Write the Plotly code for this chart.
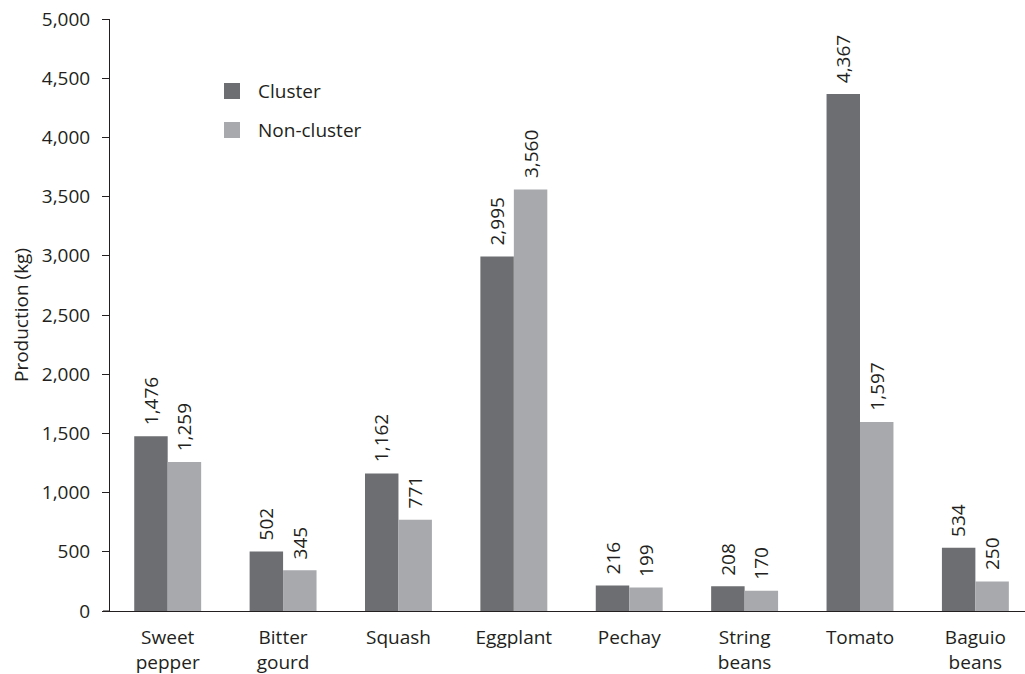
import plotly.graph_objects as go

categories = ["Sweet<br>pepper", "Bitter<br>gourd", "Squash", "Eggplant", "Pechay",
              "String<br>beans", "Tomato", "Baguio<br>beans"]
cluster = [1476, 502, 1162, 2995, 216, 208, 4367, 534]
non_cluster = [1259, 345, 771, 3560, 199, 170, 1597, 250]
y_ticks = [0, 500, 1000, 1500, 2000, 2500, 3000, 3500, 4000, 4500, 5000]
series = [("Cluster", cluster, "#6d6e71"), ("Non-cluster", non_cluster, "#a7a9ac")]

FONT = "Open Sans"
FS = 19
TXT = "#231f20"

W, H = 1025, 674
ML, MR, MT, MB = 110, 0, 19, 63
XR = [-0.5, 7.43]
BARGAP = 0.42
plot_w = W - ML - MR
plot_h = H - MT - MB
px_per_cat = plot_w / (XR[1] - XR[0])
bar_w_px = px_per_cat * (1 - BARGAP) / len(series)

fig = go.Figure()
for name, vals, col in series:
    fig.add_trace(go.Bar(x=categories, y=vals, name=name, marker_color=col,
                         marker_line_width=0, showlegend=False))

annotations = []
for si, (name, vals, col) in enumerate(series):
    shift = (si - (len(series) - 1) / 2) * bar_w_px
    for cat, v in zip(categories, vals):
        annotations.append(dict(x=cat, y=v, xref="x", yref="y", text=f"{v:,}",
                                textangle=-90, showarrow=False, xanchor="center",
                                yanchor="bottom", xshift=shift, yshift=9,
                                font=dict(family=FONT, size=FS, color=TXT)))

# manual legend (paper coordinates)
leg_x0, leg_size = (224 - ML) / plot_w, 16
leg_rows = [91, 130]
for (name, vals, col), cy in zip(series, leg_rows):
    yc = (H - MB - cy) / plot_h
    fig.add_shape(type="rect", xref="paper", yref="paper",
                  x0=leg_x0, x1=leg_x0 + leg_size / plot_w,
                  y0=yc - leg_size / 2 / plot_h, y1=yc + leg_size / 2 / plot_h,
                  fillcolor=col, line=dict(width=0))
    annotations.append(dict(x=(256 - ML) / plot_w, y=yc, xref="paper", yref="paper",
                            text=name, showarrow=False, xanchor="left", yanchor="middle",
                            font=dict(family=FONT, size=FS, color=TXT)))

fig.update_layout(
    width=W, height=H,
    margin=dict(l=ML, r=MR, t=MT, b=MB),
    paper_bgcolor="white", plot_bgcolor="white",
    barmode="group", bargap=BARGAP, bargroupgap=0,
    font=dict(family=FONT, size=FS, color=TXT),
    showlegend=False,
    annotations=annotations,
    xaxis=dict(range=XR, showline=True, linecolor=TXT, linewidth=1,
               ticks="", tickfont=dict(family=FONT, size=FS, color=TXT),
               showgrid=False, zeroline=False, ticklabelstandoff=9),
    yaxis=dict(range=[0, 5000], tickvals=y_ticks, tickformat=",",
               showline=True, linecolor=TXT, linewidth=1,
               ticks="outside", ticklen=7, tickcolor=TXT,
               showgrid=False, zeroline=False, ticklabelstandoff=8,
               tickfont=dict(family=FONT, size=FS, color=TXT),
               title=dict(text="Production (kg)", standoff=8,
                          font=dict(family=FONT, size=FS, color=TXT))),
)
fig.add_shape(type="line", xref="paper", yref="paper", x0=-7 / plot_w, x1=0, y0=0, y1=0,
              line=dict(color=TXT, width=1))

fig.write_html("out.html")
